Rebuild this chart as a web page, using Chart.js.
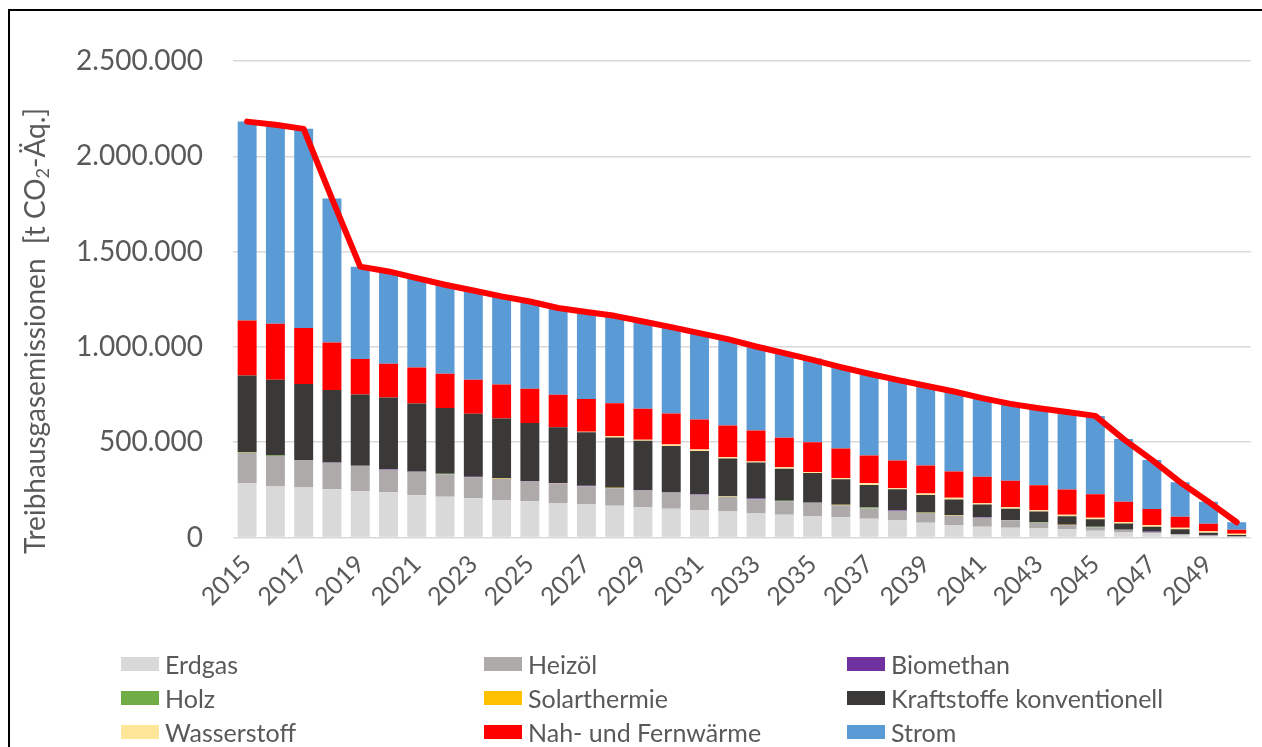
<!DOCTYPE html>
<html><head><meta charset="utf-8">
<script src="https://cdn.jsdelivr.net/npm/chart.js@4"></script>
<style>
html,body{margin:0;padding:0;background:#fff;}
#wrap{position:relative;width:1262px;height:747px;overflow:hidden;background:#fff;}
#c{position:absolute;left:0;top:0;}
#frame{position:absolute;left:8px;top:9px;width:1400px;height:900px;border-left:2px solid #000;border-top:2px solid #000;pointer-events:none;}
.lg{position:absolute;height:14px;font-family:Lato,"Open Sans",sans-serif;font-size:25px;color:#595959;white-space:nowrap;}
.lg .b{position:absolute;left:0;top:0;width:38px;height:14px;}
.lg .t{position:absolute;left:44px;top:7px;transform:translateY(-50%);line-height:1;}
</style></head>
<body><div id="wrap"><canvas id="c" width="1262" height="747"></canvas><div id="legend"></div><div id="frame"></div></div>
<script>
const years = ['2015','2016','2017','2018','2019','2020','2021','2022','2023','2024','2025','2026','2027','2028','2029','2030','2031','2032','2033','2034','2035','2036','2037','2038','2039','2040','2041','2042','2043','2044','2045','2046','2047','2048','2049','2050'];
const xTickLabels = ['2015','2017','2019','2021','2023','2025','2027','2029','2031','2033','2035','2037','2039','2041','2043','2045','2047','2049'];
const yTickValues = [0,500000,1000000,1500000,2000000,2500000];

const erdgas = [285000,267000,262000,253000,244000,237000,222000,214000,206000,197000,190000,181000,176000,167000,160000,151000,144000,136000,129000,120000,113000,106000,99000,90000,78000,66000,57000,51000,48000,43000,36000,29000,22000,13000,8000,3000];
const heizoel = [159000,160000,144000,139000,132000,118000,122000,118000,110000,111000,104000,102000,93000,91000,86000,84000,80000,79000,72000,70000,68000,63000,55000,51000,50000,49000,46000,39000,29000,21000,18000,11000,7000,4000,3000,2000];
const biomethan = [0,0,1000,1000,1000,3000,1000,0,3000,0,3000,1000,3000,1000,3000,1000,3000,0,3000,0,1000,0,0,3000,1000,0,3000,1000,0,1000,0,1000,2000,500,500,0];
const holz = [2000,3000,0,1000,0,0,1000,3000,0,0,0,1000,0,1000,0,1000,0,0,0,3000,1000,0,3000,0,1000,0,0,1000,3000,1000,2500,1000,0,500,500,0];
const solarthermie = [1000,0,0,0,0,0,0,0,0,3000,0,1000,0,1000,0,1000,0,3000,0,0,1000,3000,0,0,1000,3000,0,0,0,1000,0,0,0,500,0,0];
const kraftstoffe = [403000,397000,398000,380000,373000,376000,357000,344000,330000,313000,304000,292000,280000,264000,259000,242000,227000,196000,189000,168000,154000,134000,119000,109000,92000,82000,67000,59000,56000,45000,39000,31000,26000,25000,13000,8000];
const wasserstoff = [0,0,0,0,0,0,0,0,0,0,0,0,3000,8000,5000,8000,8000,9000,6000,8000,6000,6000,8000,6000,8000,8000,7000,8000,7000,8000,8000,8000,8000,8000,8000,7000];
const nahFernwaerme = [289000,294000,294000,249000,186000,177000,189000,180000,178000,179000,179000,171000,172000,171000,163000,163000,157000,164000,163000,155000,156000,155000,146000,145000,147000,138000,139000,139000,131000,132000,124000,106000,85000,58000,39000,21000];
const strom = [1043000,1045000,1045000,756000,485000,485000,469000,467000,469000,462000,458000,456000,457000,460000,462000,454000,453000,454000,446000,443000,439000,433000,429000,429000,419000,420000,412000,403000,404000,407000,410000,330000,257000,181000,116000,39000];
const gesamtLinie = [2182000,2166000,2144000,1778000,1421000,1396000,1361000,1326000,1296000,1265000,1238000,1204000,1183000,1163000,1133000,1104000,1072000,1041000,1002000,967000,932000,894000,859000,827000,796000,766000,731000,701000,678000,658000,638000,516000,407000,290000,188000,80000];

const seriesNames = ['Erdgas','Heizöl','Biomethan','Holz','Solarthermie','Kraftstoffe konventionell','Wasserstoff','Nah- und Fernwärme','Strom'];
const seriesData = [erdgas,heizoel,biomethan,holz,solarthermie,kraftstoffe,wasserstoff,nahFernwaerme,strom];
const seriesColors = ['#D9D9D9','#AEAAAA','#7030A0','#70AD47','#FFC000','#3B3838','#FFE699','#FF0000','#5B9BD5'];

const Y_TITLE_A = 'Treibhausgasemissionen  [t CO';
const Y_TITLE_SUB = '2';
const Y_TITLE_B = '-Äq.]';

const TXT = '#595959';
function fmtDE(v){ return String(Math.round(v)).replace(/\B(?=(\d{3})+(?!\d))/g,'.'); }

const yTitlePlugin = {
  id:'yTitle',
  afterDraw(chart){
    const g = chart.ctx;
    g.save();
    g.translate(36, 331);
    g.rotate(-Math.PI/2);
    g.fillStyle = TXT;
    g.textBaseline = 'middle';
    const big = '28px Lato, "Open Sans", sans-serif';
    const small = '18px Lato, "Open Sans", sans-serif';
    g.font = big; const wA = g.measureText(Y_TITLE_A).width; const wB = g.measureText(Y_TITLE_B).width;
    g.font = small; const wS = g.measureText(Y_TITLE_SUB).width;
    let x = -(wA + wS + wB)/2;
    g.textAlign = 'left';
    g.font = big; g.fillText(Y_TITLE_A, x, 0); x += wA;
    g.font = small; g.fillText(Y_TITLE_SUB, x, 7); x += wS;
    g.font = big; g.fillText(Y_TITLE_B, x, 0);
    g.restore();
  }
};

const datasets = [{
  type:'line', label:'Summe', data:gesamtLinie, borderColor:'#FF0000', backgroundColor:'#FF0000',
  borderWidth:6, pointRadius:0, tension:0, fill:false, borderCapStyle:'round', borderJoinStyle:'round',
  stack:'linie', order:0
}];
seriesNames.forEach((n,i)=>{
  datasets.push({type:'bar', label:n, data:seriesData[i], backgroundColor:seriesColors[i], borderWidth:0,
    barPercentage:0.67, categoryPercentage:1.0, stack:'s', order:1});
});

const chart = new Chart(document.getElementById('c'), {
  data:{labels:years, datasets},
  options:{
    responsive:false, animation:false, devicePixelRatio:1,
    layout:{padding:{left:0,right:7,top:61,bottom:0}},
    plugins:{legend:{display:false}, tooltip:{enabled:false}, title:{display:false}},
    scales:{
      x:{stacked:true, offset:true, grid:{display:false}, border:{display:false},
        ticks:{autoSkip:false, minRotation:45, maxRotation:45, color:TXT, padding:4,
          font:{family:'Lato', size:25},
          callback:(v,i)=> xTickLabels.includes(years[i]) ? years[i] : ''},
        afterFit:(s)=>{ s.height = 747 - 537.5; }},
      y:{stacked:true, min:0, max:2500000,
        afterBuildTicks:(s)=>{ s.ticks = yTickValues.map(v=>({value:v})); },
        ticks:{color:TXT, padding:30, font:{family:'Lato', size:28}, callback:(v)=>fmtDE(v)},
        grid:{color:'#D9D9D9', lineWidth:1.5, drawTicks:false}, border:{display:false},
        afterFit:(s)=>{ s.width = 233; }}
    }
  },
  plugins:[yTitlePlugin]
});

// HTML legend generated from the chart's bar datasets (3 columns, row-major)
const legendEl = document.getElementById('legend');
const colX = [121,484,847], rowY = [657,691,725];
chart.data.datasets.filter(d=>d.type==='bar').forEach((d,i)=>{
  const it = document.createElement('div');
  it.className='lg';
  it.style.left = colX[i%3]+'px';
  it.style.top = rowY[Math.floor(i/3)]+'px';
  const b = document.createElement('span'); b.className='b'; b.style.background=d.backgroundColor;
  const t = document.createElement('span'); t.className='t'; t.textContent=d.label;
  it.appendChild(b); it.appendChild(t); legendEl.appendChild(it);
});
</script>
</body></html>
